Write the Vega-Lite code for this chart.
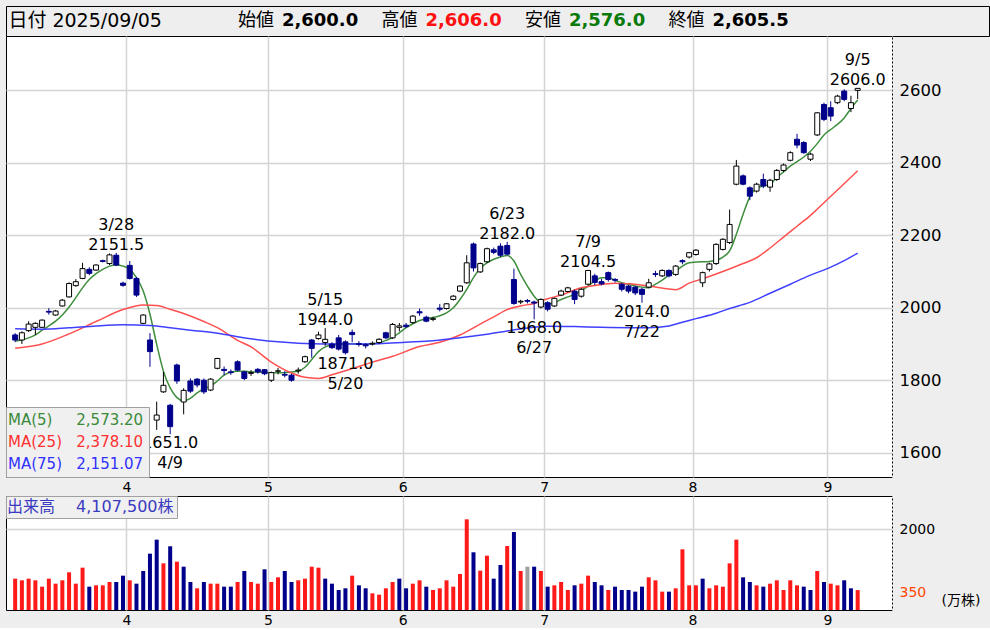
{
  "$schema": "https://vega.github.io/schema/vega-lite/v6.json",
  "background": "#eeeeee",
  "padding": {"left": 5, "top": 5, "right": 2, "bottom": 0},
  "config": {
    "font": "DejaVu Sans, Noto Sans CJK JP",
    "view": {"stroke": "black", "strokeWidth": 1},
    "axis": {"labelFont": "DejaVu Sans, Noto Sans CJK JP", "titleFont": "DejaVu Sans, Noto Sans CJK JP", "labelColor": "black"},
    "legend": {"labelFont": "DejaVu Sans, Noto Sans CJK JP"}
  },
  "datasets": {
    "hdr": [
      {"k": "日付", "lab": "日付 2025/09/05", "val": "", "vc": "n"},
      {"k": "始値", "lab": "始値", "val": "2,600.0", "vc": "n"},
      {"k": "高値", "lab": "高値", "val": "2,606.0", "vc": "h"},
      {"k": "安値", "lab": "安値", "val": "2,576.0", "vc": "l"},
      {"k": "終値", "lab": "終値", "val": "2,605.5", "vc": "n"}
    ],
    "k": [
      {"i":0,"d":"3/6","o":1925,"h":1930,"l":1905,"c":1911,"v":709,"vd":"u"},
      {"i":1,"d":"3/7","o":1911,"h":1935,"l":1900,"c":1931,"v":666,"vd":"u"},
      {"i":2,"d":"3/10","o":1937,"h":1963,"l":1933,"c":1955,"v":709,"vd":"u"},
      {"i":3,"d":"3/11","o":1946,"h":1960,"l":1925,"c":1957,"v":666,"vd":"u"},
      {"i":4,"d":"3/12","o":1946,"h":1968,"l":1944,"c":1966,"v":500,"vd":"u"},
      {"i":5,"d":"3/13","o":1990,"h":1999,"l":1981,"c":1988,"v":709,"vd":"u"},
      {"i":6,"d":"3/14","o":1980,"h":1994,"l":1978,"c":1991,"v":578,"vd":"u"},
      {"i":7,"d":"3/17","o":2005,"h":2024,"l":2003,"c":2021,"v":666,"vd":"u"},
      {"i":8,"d":"3/18","o":2030,"h":2070,"l":2028,"c":2067,"v":875,"vd":"u"},
      {"i":9,"d":"3/19","o":2061,"h":2079,"l":2058,"c":2072,"v":578,"vd":"u"},
      {"i":10,"d":"3/21","o":2081,"h":2124,"l":2079,"c":2108,"v":996,"vd":"u"},
      {"i":11,"d":"3/24","o":2106,"h":2112,"l":2090,"c":2095,"v":500,"vd":"d"},
      {"i":12,"d":"3/25","o":2104,"h":2120,"l":2102,"c":2118,"v":535,"vd":"u"},
      {"i":13,"d":"3/26","o":2130,"h":2133,"l":2125,"c":2128,"v":535,"vd":"u"},
      {"i":14,"d":"3/27","o":2122,"h":2150,"l":2118,"c":2146,"v":622,"vd":"u"},
      {"i":15,"d":"3/28","o":2145,"h":2151.5,"l":2115,"c":2118,"v":622,"vd":"d"},
      {"i":16,"d":"3/31","o":2068,"h":2072,"l":2058,"c":2062,"v":787,"vd":"d"},
      {"i":17,"d":"4/1","o":2117,"h":2129,"l":2078,"c":2081,"v":666,"vd":"u"},
      {"i":18,"d":"4/2","o":2081,"h":2085,"l":2030,"c":2035,"v":578,"vd":"d"},
      {"i":19,"d":"4/3","o":1957,"h":1982,"l":1955,"c":1980,"v":909,"vd":"d"},
      {"i":20,"d":"4/4","o":1911,"h":1930,"l":1837,"c":1879,"v":1362,"vd":"d"},
      {"i":21,"d":"4/7","o":1690,"h":1741,"l":1663,"c":1704,"v":1728,"vd":"d"},
      {"i":22,"d":"4/8","o":1768,"h":1823,"l":1765,"c":1786,"v":1110,"vd":"u"},
      {"i":23,"d":"4/9","o":1731,"h":1735,"l":1651,"c":1672,"v":1555,"vd":"d"},
      {"i":24,"d":"4/10","o":1842,"h":1846,"l":1790,"c":1798,"v":1153,"vd":"u"},
      {"i":25,"d":"4/11","o":1740,"h":1778,"l":1706,"c":1772,"v":1022,"vd":"d"},
      {"i":26,"d":"4/14","o":1798,"h":1805,"l":1765,"c":1770,"v":622,"vd":"d"},
      {"i":27,"d":"4/15","o":1803,"h":1806,"l":1780,"c":1787,"v":457,"vd":"u"},
      {"i":28,"d":"4/16","o":1800,"h":1805,"l":1762,"c":1768,"v":622,"vd":"d"},
      {"i":29,"d":"4/17","o":1773,"h":1806,"l":1770,"c":1803,"v":578,"vd":"u"},
      {"i":30,"d":"4/18","o":1833,"h":1862,"l":1830,"c":1860,"v":578,"vd":"u"},
      {"i":31,"d":"4/21","o":1830,"h":1838,"l":1814,"c":1827,"v":500,"vd":"d"},
      {"i":32,"d":"4/22","o":1823,"h":1830,"l":1815,"c":1821,"v":500,"vd":"d"},
      {"i":33,"d":"4/23","o":1851,"h":1855,"l":1825,"c":1828,"v":622,"vd":"u"},
      {"i":34,"d":"4/24","o":1823,"h":1826,"l":1800,"c":1805,"v":909,"vd":"d"},
      {"i":35,"d":"4/25","o":1819,"h":1828,"l":1812,"c":1821,"v":622,"vd":"u"},
      {"i":36,"d":"4/28","o":1830,"h":1834,"l":1818,"c":1823,"v":578,"vd":"u"},
      {"i":37,"d":"4/30","o":1829,"h":1831,"l":1814,"c":1818,"v":953,"vd":"d"},
      {"i":38,"d":"5/1","o":1800,"h":1824,"l":1795,"c":1821,"v":622,"vd":"u"},
      {"i":39,"d":"5/2","o":1825,"h":1834,"l":1816,"c":1826,"v":744,"vd":"u"},
      {"i":40,"d":"5/7","o":1816,"h":1825,"l":1808,"c":1814,"v":909,"vd":"d"},
      {"i":41,"d":"5/8","o":1814,"h":1818,"l":1796,"c":1800,"v":622,"vd":"d"},
      {"i":42,"d":"5/9","o":1826,"h":1835,"l":1818,"c":1828,"v":666,"vd":"u"},
      {"i":43,"d":"5/12","o":1851,"h":1868,"l":1848,"c":1865,"v":709,"vd":"u"},
      {"i":44,"d":"5/13","o":1911,"h":1914,"l":1862,"c":1888,"v":1022,"vd":"u"},
      {"i":45,"d":"5/14","o":1915,"h":1934,"l":1912,"c":1925,"v":996,"vd":"u"},
      {"i":46,"d":"5/15","o":1904,"h":1944,"l":1895,"c":1913,"v":709,"vd":"d"},
      {"i":47,"d":"5/16","o":1900,"h":1905,"l":1886,"c":1890,"v":578,"vd":"d"},
      {"i":48,"d":"5/19","o":1917,"h":1925,"l":1882,"c":1886,"v":413,"vd":"d"},
      {"i":49,"d":"5/20","o":1906,"h":1910,"l":1871,"c":1876,"v":457,"vd":"d"},
      {"i":50,"d":"5/21","o":1932,"h":1940,"l":1905,"c":1926,"v":787,"vd":"u"},
      {"i":51,"d":"5/22","o":1901,"h":1908,"l":1893,"c":1899,"v":535,"vd":"d"},
      {"i":52,"d":"5/23","o":1898,"h":1902,"l":1888,"c":1895,"v":457,"vd":"d"},
      {"i":53,"d":"5/26","o":1900,"h":1907,"l":1896,"c":1902,"v":326,"vd":"u"},
      {"i":54,"d":"5/27","o":1904,"h":1916,"l":1900,"c":1913,"v":291,"vd":"u"},
      {"i":55,"d":"5/28","o":1931,"h":1934,"l":1914,"c":1917,"v":457,"vd":"u"},
      {"i":56,"d":"5/29","o":1917,"h":1958,"l":1914,"c":1954,"v":622,"vd":"u"},
      {"i":57,"d":"5/30","o":1946,"h":1958,"l":1935,"c":1950,"v":709,"vd":"d"},
      {"i":58,"d":"6/2","o":1952,"h":1958,"l":1944,"c":1948,"v":457,"vd":"d"},
      {"i":59,"d":"6/3","o":1959,"h":1980,"l":1956,"c":1977,"v":578,"vd":"u"},
      {"i":60,"d":"6/4","o":1989,"h":1998,"l":1978,"c":1986,"v":666,"vd":"u"},
      {"i":61,"d":"6/5","o":1974,"h":1978,"l":1960,"c":1963,"v":500,"vd":"d"},
      {"i":62,"d":"6/6","o":1968,"h":1975,"l":1963,"c":1970,"v":413,"vd":"u"},
      {"i":63,"d":"6/9","o":1999,"h":2010,"l":1990,"c":1996,"v":457,"vd":"u"},
      {"i":64,"d":"6/10","o":1998,"h":2013,"l":1995,"c":2011,"v":666,"vd":"u"},
      {"i":65,"d":"6/11","o":2023,"h":2035,"l":2020,"c":2032,"v":500,"vd":"u"},
      {"i":66,"d":"6/12","o":2046,"h":2062,"l":2043,"c":2060,"v":831,"vd":"u"},
      {"i":67,"d":"6/13","o":2069,"h":2145,"l":2066,"c":2124,"v":2260,"vd":"u"},
      {"i":68,"d":"6/16","o":2176,"h":2180,"l":2100,"c":2110,"v":1398,"vd":"d"},
      {"i":69,"d":"6/17","o":2099,"h":2125,"l":2096,"c":2122,"v":917,"vd":"u"},
      {"i":70,"d":"6/18","o":2127,"h":2166,"l":2124,"c":2163,"v":1310,"vd":"u"},
      {"i":71,"d":"6/19","o":2160,"h":2166,"l":2148,"c":2153,"v":709,"vd":"d"},
      {"i":72,"d":"6/20","o":2170,"h":2178,"l":2140,"c":2145,"v":1066,"vd":"d"},
      {"i":73,"d":"6/23","o":2172,"h":2182,"l":2145,"c":2148,"v":1563,"vd":"u"},
      {"i":74,"d":"6/24","o":2078,"h":2108,"l":2008,"c":2012,"v":1928,"vd":"d"},
      {"i":75,"d":"6/25","o":2016,"h":2022,"l":2010,"c":2018,"v":909,"vd":"u"},
      {"i":76,"d":"6/26","o":2020,"h":2024,"l":2012,"c":2018,"v":1022,"vd":"f"},
      {"i":77,"d":"6/27","o":2016,"h":2020,"l":1968,"c":2013,"v":1022,"vd":"d"},
      {"i":78,"d":"6/30","o":2002,"h":2026,"l":1998,"c":2023,"v":909,"vd":"u"},
      {"i":79,"d":"7/1","o":2014,"h":2018,"l":1990,"c":1996,"v":500,"vd":"d"},
      {"i":80,"d":"7/2","o":2005,"h":2028,"l":2002,"c":2026,"v":535,"vd":"u"},
      {"i":81,"d":"7/3","o":2035,"h":2050,"l":2032,"c":2046,"v":622,"vd":"u"},
      {"i":82,"d":"7/4","o":2045,"h":2058,"l":2042,"c":2055,"v":413,"vd":"u"},
      {"i":83,"d":"7/7","o":2046,"h":2050,"l":2010,"c":2023,"v":535,"vd":"d"},
      {"i":84,"d":"7/8","o":2032,"h":2054,"l":2028,"c":2051,"v":578,"vd":"u"},
      {"i":85,"d":"7/9","o":2065,"h":2104.5,"l":2062,"c":2103,"v":787,"vd":"u"},
      {"i":86,"d":"7/10","o":2088,"h":2094,"l":2062,"c":2070,"v":622,"vd":"d"},
      {"i":87,"d":"7/11","o":2072,"h":2080,"l":2062,"c":2066,"v":535,"vd":"d"},
      {"i":88,"d":"7/14","o":2097,"h":2100,"l":2072,"c":2078,"v":413,"vd":"u"},
      {"i":89,"d":"7/15","o":2078,"h":2082,"l":2070,"c":2076,"v":500,"vd":"d"},
      {"i":90,"d":"7/16","o":2065,"h":2068,"l":2045,"c":2051,"v":413,"vd":"d"},
      {"i":91,"d":"7/17","o":2060,"h":2063,"l":2040,"c":2046,"v":413,"vd":"d"},
      {"i":92,"d":"7/18","o":2057,"h":2060,"l":2035,"c":2041,"v":370,"vd":"d"},
      {"i":93,"d":"7/22","o":2051,"h":2055,"l":2014,"c":2037,"v":500,"vd":"d"},
      {"i":94,"d":"7/23","o":2057,"h":2080,"l":2054,"c":2069,"v":744,"vd":"u"},
      {"i":95,"d":"7/24","o":2094,"h":2102,"l":2085,"c":2092,"v":666,"vd":"u"},
      {"i":96,"d":"7/25","o":2088,"h":2106,"l":2085,"c":2103,"v":370,"vd":"u"},
      {"i":97,"d":"7/28","o":2103,"h":2106,"l":2084,"c":2088,"v":370,"vd":"d"},
      {"i":98,"d":"7/29","o":2092,"h":2118,"l":2088,"c":2115,"v":457,"vd":"u"},
      {"i":99,"d":"7/30","o":2130,"h":2134,"l":2120,"c":2127,"v":1476,"vd":"u"},
      {"i":100,"d":"7/31","o":2140,"h":2154,"l":2136,"c":2152,"v":535,"vd":"u"},
      {"i":101,"d":"8/1","o":2147,"h":2162,"l":2144,"c":2159,"v":535,"vd":"u"},
      {"i":102,"d":"8/4","o":2069,"h":2100,"l":2057,"c":2097,"v":709,"vd":"d"},
      {"i":103,"d":"8/5","o":2106,"h":2124,"l":2100,"c":2121,"v":457,"vd":"u"},
      {"i":104,"d":"8/6","o":2122,"h":2178,"l":2118,"c":2175,"v":535,"vd":"u"},
      {"i":105,"d":"8/7","o":2161,"h":2192,"l":2158,"c":2189,"v":500,"vd":"u"},
      {"i":106,"d":"8/8","o":2180,"h":2271,"l":2176,"c":2230,"v":1110,"vd":"u"},
      {"i":107,"d":"8/12","o":2341,"h":2408,"l":2338,"c":2391,"v":1728,"vd":"u"},
      {"i":108,"d":"8/13","o":2364,"h":2368,"l":2338,"c":2341,"v":744,"vd":"d"},
      {"i":109,"d":"8/14","o":2331,"h":2335,"l":2297,"c":2308,"v":622,"vd":"d"},
      {"i":110,"d":"8/15","o":2322,"h":2345,"l":2318,"c":2341,"v":535,"vd":"u"},
      {"i":111,"d":"8/18","o":2354,"h":2370,"l":2330,"c":2336,"v":500,"vd":"d"},
      {"i":112,"d":"8/19","o":2333,"h":2356,"l":2320,"c":2352,"v":578,"vd":"u"},
      {"i":113,"d":"8/20","o":2354,"h":2383,"l":2350,"c":2379,"v":666,"vd":"u"},
      {"i":114,"d":"8/21","o":2379,"h":2398,"l":2375,"c":2394,"v":413,"vd":"u"},
      {"i":115,"d":"8/22","o":2407,"h":2432,"l":2404,"c":2428,"v":666,"vd":"u"},
      {"i":116,"d":"8/25","o":2465,"h":2480,"l":2440,"c":2449,"v":535,"vd":"u"},
      {"i":117,"d":"8/26","o":2456,"h":2460,"l":2425,"c":2428,"v":500,"vd":"d"},
      {"i":118,"d":"8/27","o":2410,"h":2428,"l":2405,"c":2424,"v":413,"vd":"d"},
      {"i":119,"d":"8/28","o":2477,"h":2540,"l":2474,"c":2538,"v":909,"vd":"u"},
      {"i":120,"d":"8/29","o":2561,"h":2566,"l":2515,"c":2520,"v":622,"vd":"d"},
      {"i":121,"d":"9/1","o":2552,"h":2570,"l":2515,"c":2529,"v":578,"vd":"u"},
      {"i":122,"d":"9/2","o":2566,"h":2588,"l":2562,"c":2584,"v":535,"vd":"u"},
      {"i":123,"d":"9/3","o":2598,"h":2603,"l":2570,"c":2575,"v":666,"vd":"d"},
      {"i":124,"d":"9/4","o":2550,"h":2585,"l":2540,"c":2566,"v":457,"vd":"d"},
      {"i":125,"d":"9/5","o":2600,"h":2606,"l":2576,"c":2605.5,"v":410.75,"vd":"u"}
    ],
    "ma": [
      {"i":0,"ma":"MA(5)","v":1908},{"i":1,"ma":"MA(5)","v":1912},{"i":2,"ma":"MA(5)","v":1917},{"i":3,"ma":"MA(5)","v":1925},{"i":4,"ma":"MA(5)","v":1938},
      {"i":5,"ma":"MA(5)","v":1950},{"i":6,"ma":"MA(5)","v":1963},{"i":7,"ma":"MA(5)","v":1980},{"i":8,"ma":"MA(5)","v":2002},{"i":9,"ma":"MA(5)","v":2028},
      {"i":10,"ma":"MA(5)","v":2055},{"i":11,"ma":"MA(5)","v":2078},{"i":12,"ma":"MA(5)","v":2094},{"i":13,"ma":"MA(5)","v":2106},{"i":14,"ma":"MA(5)","v":2115},
      {"i":15,"ma":"MA(5)","v":2118},{"i":16,"ma":"MA(5)","v":2115},{"i":17,"ma":"MA(5)","v":2106},{"i":18,"ma":"MA(5)","v":2083},{"i":19,"ma":"MA(5)","v":2046},
      {"i":20,"ma":"MA(5)","v":1982},{"i":21,"ma":"MA(5)","v":1899},{"i":22,"ma":"MA(5)","v":1825},{"i":23,"ma":"MA(5)","v":1779},{"i":24,"ma":"MA(5)","v":1752},
      {"i":25,"ma":"MA(5)","v":1743},{"i":26,"ma":"MA(5)","v":1750},{"i":27,"ma":"MA(5)","v":1765},{"i":28,"ma":"MA(5)","v":1777},{"i":29,"ma":"MA(5)","v":1784},
      {"i":30,"ma":"MA(5)","v":1798},{"i":31,"ma":"MA(5)","v":1814},{"i":32,"ma":"MA(5)","v":1823},{"i":33,"ma":"MA(5)","v":1825},{"i":34,"ma":"MA(5)","v":1825},
      {"i":35,"ma":"MA(5)","v":1823},{"i":36,"ma":"MA(5)","v":1823},{"i":37,"ma":"MA(5)","v":1822},{"i":38,"ma":"MA(5)","v":1821},{"i":39,"ma":"MA(5)","v":1821},
      {"i":40,"ma":"MA(5)","v":1821},{"i":41,"ma":"MA(5)","v":1823},{"i":42,"ma":"MA(5)","v":1825},{"i":43,"ma":"MA(5)","v":1836},{"i":44,"ma":"MA(5)","v":1857},
      {"i":45,"ma":"MA(5)","v":1879},{"i":46,"ma":"MA(5)","v":1892},{"i":47,"ma":"MA(5)","v":1897},{"i":48,"ma":"MA(5)","v":1899},{"i":49,"ma":"MA(5)","v":1901},
      {"i":50,"ma":"MA(5)","v":1901},{"i":51,"ma":"MA(5)","v":1899},{"i":52,"ma":"MA(5)","v":1899},{"i":53,"ma":"MA(5)","v":1901},{"i":54,"ma":"MA(5)","v":1903},
      {"i":55,"ma":"MA(5)","v":1910},{"i":56,"ma":"MA(5)","v":1918},{"i":57,"ma":"MA(5)","v":1931},{"i":58,"ma":"MA(5)","v":1945},{"i":59,"ma":"MA(5)","v":1956},
      {"i":60,"ma":"MA(5)","v":1965},{"i":61,"ma":"MA(5)","v":1970},{"i":62,"ma":"MA(5)","v":1973},{"i":63,"ma":"MA(5)","v":1978},{"i":64,"ma":"MA(5)","v":1986},
      {"i":65,"ma":"MA(5)","v":2000},{"i":66,"ma":"MA(5)","v":2023},{"i":67,"ma":"MA(5)","v":2051},{"i":68,"ma":"MA(5)","v":2083},{"i":69,"ma":"MA(5)","v":2109},
      {"i":70,"ma":"MA(5)","v":2124},{"i":71,"ma":"MA(5)","v":2134},{"i":72,"ma":"MA(5)","v":2140},{"i":73,"ma":"MA(5)","v":2144},{"i":74,"ma":"MA(5)","v":2129},
      {"i":75,"ma":"MA(5)","v":2092},{"i":76,"ma":"MA(5)","v":2060},{"i":77,"ma":"MA(5)","v":2032},{"i":78,"ma":"MA(5)","v":2014},{"i":79,"ma":"MA(5)","v":2010},
      {"i":80,"ma":"MA(5)","v":2014},{"i":81,"ma":"MA(5)","v":2023},{"i":82,"ma":"MA(5)","v":2030},{"i":83,"ma":"MA(5)","v":2037},{"i":84,"ma":"MA(5)","v":2048},
      {"i":85,"ma":"MA(5)","v":2060},{"i":86,"ma":"MA(5)","v":2074},{"i":87,"ma":"MA(5)","v":2083},{"i":88,"ma":"MA(5)","v":2083},{"i":89,"ma":"MA(5)","v":2076},
      {"i":90,"ma":"MA(5)","v":2069},{"i":91,"ma":"MA(5)","v":2065},{"i":92,"ma":"MA(5)","v":2060},{"i":93,"ma":"MA(5)","v":2057},{"i":94,"ma":"MA(5)","v":2055},
      {"i":95,"ma":"MA(5)","v":2065},{"i":96,"ma":"MA(5)","v":2076},{"i":97,"ma":"MA(5)","v":2090},{"i":98,"ma":"MA(5)","v":2101},{"i":99,"ma":"MA(5)","v":2115},
      {"i":100,"ma":"MA(5)","v":2124},{"i":101,"ma":"MA(5)","v":2126},{"i":102,"ma":"MA(5)","v":2127},{"i":103,"ma":"MA(5)","v":2128},{"i":104,"ma":"MA(5)","v":2131},
      {"i":105,"ma":"MA(5)","v":2140},{"i":106,"ma":"MA(5)","v":2157},{"i":107,"ma":"MA(5)","v":2203},{"i":108,"ma":"MA(5)","v":2258},{"i":109,"ma":"MA(5)","v":2306},
      {"i":110,"ma":"MA(5)","v":2330},{"i":111,"ma":"MA(5)","v":2336},{"i":112,"ma":"MA(5)","v":2341},{"i":113,"ma":"MA(5)","v":2359},{"i":114,"ma":"MA(5)","v":2375},
      {"i":115,"ma":"MA(5)","v":2391},{"i":116,"ma":"MA(5)","v":2403},{"i":117,"ma":"MA(5)","v":2416},{"i":118,"ma":"MA(5)","v":2432},{"i":119,"ma":"MA(5)","v":2453},
      {"i":120,"ma":"MA(5)","v":2477},{"i":121,"ma":"MA(5)","v":2492},{"i":122,"ma":"MA(5)","v":2506},{"i":123,"ma":"MA(5)","v":2524},{"i":124,"ma":"MA(5)","v":2550},
      {"i":125,"ma":"MA(5)","v":2573.2},
      {"i":0,"ma":"MA(25)","v":1888},{"i":4,"ma":"MA(25)","v":1900},{"i":8,"ma":"MA(25)","v":1928},{"i":12,"ma":"MA(25)","v":1962},{"i":16,"ma":"MA(25)","v":1995},
      {"i":19,"ma":"MA(25)","v":2008},{"i":21,"ma":"MA(25)","v":2006},{"i":23,"ma":"MA(25)","v":1996},{"i":25,"ma":"MA(25)","v":1984},{"i":28,"ma":"MA(25)","v":1962},
      {"i":30,"ma":"MA(25)","v":1945},{"i":33,"ma":"MA(25)","v":1910},{"i":35,"ma":"MA(25)","v":1892},{"i":38,"ma":"MA(25)","v":1850},{"i":41,"ma":"MA(25)","v":1820},
      {"i":43,"ma":"MA(25)","v":1808},{"i":45,"ma":"MA(25)","v":1805},{"i":47,"ma":"MA(25)","v":1815},{"i":50,"ma":"MA(25)","v":1832},{"i":53,"ma":"MA(25)","v":1850},
      {"i":56,"ma":"MA(25)","v":1866},{"i":60,"ma":"MA(25)","v":1893},{"i":63,"ma":"MA(25)","v":1905},{"i":66,"ma":"MA(25)","v":1925},{"i":69,"ma":"MA(25)","v":1955},
      {"i":71,"ma":"MA(25)","v":1975},{"i":73,"ma":"MA(25)","v":1995},{"i":75,"ma":"MA(25)","v":2005},{"i":77,"ma":"MA(25)","v":2012},{"i":79,"ma":"MA(25)","v":2025},
      {"i":81,"ma":"MA(25)","v":2035},{"i":84,"ma":"MA(25)","v":2055},{"i":87,"ma":"MA(25)","v":2064},{"i":89,"ma":"MA(25)","v":2068},{"i":91,"ma":"MA(25)","v":2066},
      {"i":94,"ma":"MA(25)","v":2060},{"i":97,"ma":"MA(25)","v":2052},{"i":98,"ma":"MA(25)","v":2050},{"i":100,"ma":"MA(25)","v":2068},{"i":102,"ma":"MA(25)","v":2080},
      {"i":105,"ma":"MA(25)","v":2100},{"i":108,"ma":"MA(25)","v":2122},{"i":110,"ma":"MA(25)","v":2138},{"i":112,"ma":"MA(25)","v":2165},{"i":114,"ma":"MA(25)","v":2195},
      {"i":116,"ma":"MA(25)","v":2225},{"i":118,"ma":"MA(25)","v":2255},{"i":120,"ma":"MA(25)","v":2290},{"i":122,"ma":"MA(25)","v":2325},{"i":124,"ma":"MA(25)","v":2360},
      {"i":125,"ma":"MA(25)","v":2378.1},
      {"i":0,"ma":"MA(75)","v":1942},{"i":4,"ma":"MA(75)","v":1941},{"i":8,"ma":"MA(75)","v":1945},{"i":12,"ma":"MA(75)","v":1950},{"i":16,"ma":"MA(75)","v":1953},
      {"i":20,"ma":"MA(75)","v":1951},{"i":23,"ma":"MA(75)","v":1945},{"i":26,"ma":"MA(75)","v":1938},{"i":30,"ma":"MA(75)","v":1930},{"i":33,"ma":"MA(75)","v":1920},
      {"i":36,"ma":"MA(75)","v":1912},{"i":39,"ma":"MA(75)","v":1906},{"i":42,"ma":"MA(75)","v":1902},{"i":46,"ma":"MA(75)","v":1900},{"i":50,"ma":"MA(75)","v":1900},
      {"i":54,"ma":"MA(75)","v":1901},{"i":58,"ma":"MA(75)","v":1905},{"i":62,"ma":"MA(75)","v":1909},{"i":66,"ma":"MA(75)","v":1917},{"i":70,"ma":"MA(75)","v":1927},
      {"i":73,"ma":"MA(75)","v":1936},{"i":76,"ma":"MA(75)","v":1944},{"i":79,"ma":"MA(75)","v":1949},{"i":83,"ma":"MA(75)","v":1948},{"i":87,"ma":"MA(75)","v":1946},
      {"i":91,"ma":"MA(75)","v":1945},{"i":94,"ma":"MA(75)","v":1945},{"i":97,"ma":"MA(75)","v":1950},{"i":99,"ma":"MA(75)","v":1960},{"i":101,"ma":"MA(75)","v":1970},
      {"i":104,"ma":"MA(75)","v":1985},{"i":106,"ma":"MA(75)","v":1998},{"i":109,"ma":"MA(75)","v":2015},{"i":112,"ma":"MA(75)","v":2040},{"i":115,"ma":"MA(75)","v":2065},
      {"i":118,"ma":"MA(75)","v":2090},{"i":121,"ma":"MA(75)","v":2112},{"i":123,"ma":"MA(75)","v":2130},{"i":125,"ma":"MA(75)","v":2151.07}
    ],
    "ann": [
      {"i":15,"v":2151.5,"t":"3/28\n2151.5","s":"t"},
      {"i":23,"v":1651,"t":"1651.0\n4/9","s":"b"},
      {"i":46,"v":1944,"t":"5/15\n1944.0","s":"t"},
      {"i":49,"v":1871,"t":"1871.0\n5/20","s":"b"},
      {"i":73,"v":2182,"t":"6/23\n2182.0","s":"t"},
      {"i":77,"v":1968,"t":"1968.0\n6/27","s":"b"},
      {"i":85,"v":2104.5,"t":"7/9\n2104.5","s":"t"},
      {"i":93,"v":2014,"t":"2014.0\n7/22","s":"b"},
      {"i":125,"v":2606,"t":"9/5\n2606.0","s":"t"}
    ],
    "avg": [{"v": 350}],
    "blank": [{"a": 1}]
  },
  "bounds": "flush",
  "spacing": 0,
  "resolve": {"scale": {"x": "independent", "y": "independent", "color": "independent", "stroke": "independent", "fill": "independent"}, "legend": {"color": "independent", "stroke": "independent", "fill": "independent"}},
  "vconcat": [
    {
      "width": 983,
      "height": 30,
      "view": {"fill": "#eeeeee", "stroke": "black"},
      "data": {"name": "hdr"},
      "encoding": {
        "x": {"field": "k", "type": "nominal", "bandPosition": 0,
              "scale": {"type": "band", "domain": ["日付", "始値", "高値", "安値", "終値"], "paddingInner": 0, "paddingOuter": 0.925, "align": 0.333},
              "axis": null}
      },
      "layer": [
        {
          "transform": [{"filter": "datum.k == '日付'"}],
          "mark": {"type": "text", "align": "left", "baseline": "middle", "fontSize": 19, "dx": -86, "color": "black"},
          "encoding": {"text": {"field": "lab"}}
        },
        {
          "transform": [{"filter": "datum.k != '日付'"}],
          "mark": {"type": "text", "align": "left", "baseline": "middle", "fontSize": 18, "color": "black"},
          "encoding": {"text": {"field": "lab"}}
        },
        {
          "transform": [{"filter": "datum.k != '日付'"}],
          "mark": {"type": "text", "align": "left", "baseline": "middle", "fontSize": 18, "fontWeight": "bold", "dx": 44},
          "encoding": {
            "text": {"field": "val"},
            "color": {"field": "vc", "type": "nominal", "scale": {"domain": ["n", "h", "l"], "range": ["#000000", "#ff1010", "#0a7a0a"]}, "legend": null}
          }
        }
      ]
    },
    {
      "width": 886,
      "height": 441,
      "view": {"fill": "white", "stroke": "black"},
      "encoding": {
        "x": {"field": "i", "type": "quantitative", "title": null,
              "scale": {"domain": [-0.616, 129.35], "nice": false, "zero": false},
              "axis": {"values": [16.5, 37.5, 57.5, 78.5, 100.5, 120.5],
                       "labelExpr": "datum.value < 20 ? '4' : datum.value < 40 ? '5' : datum.value < 60 ? '6' : datum.value < 90 ? '7' : datum.value < 110 ? '8' : '9'",
                       "grid": true, "gridColor": "#d4d4d4", "gridWidth": 1.5, "ticks": false, "domain": false,
                       "labelFontSize": 14, "labelPadding": 3, "labelOffset": 0}}
      },
      "layer": [
        {
          "data": {"name": "ma"},
          "mark": {"type": "line", "interpolate": "monotone", "strokeWidth": 1.5},
          "encoding": {
            "y": {"field": "v", "type": "quantitative", "title": null,
                  "scale": {"domain": [1533, 2750], "nice": false, "zero": false},
                  "axis": {"orient": "right", "values": [1600, 1800, 2000, 2200, 2400, 2600], "format": "d",
                           "grid": true, "gridColor": "#d4d4d4", "gridWidth": 1.5, "ticks": false,
                           "domain": true, "domainColor": "#eeeeee", "domainDash": [2, 2], "domainWidth": 1,
                           "labelFontSize": 16.5, "labelPadding": 7}},
            "stroke": {"field": "ma", "type": "nominal",
                       "scale": {"domain": ["MA(5)", "MA(25)", "MA(75)"], "range": ["#3e8e3e", "#ff5050", "#4040ff"]},
                       "legend": {"orient": "bottom-left", "offset": 0, "title": null, "padding": 5,
                                  "fillColor": "#f0f0f0", "strokeColor": "#a0a0a0",
                                  "symbolSize": 1, "symbolOpacity": 0, "symbolStrokeWidth": 0,
                                  "labelOffset": -18, "labelFontSize": 15, "rowPadding": 6, "labelLimit": 400, "zindex": 1,
                                  "labelExpr": "datum.label == 'MA(5)' ? 'MA(5)\u00a0\u00a0\u00a0\u00a0\u00a02,573.20' : datum.label == 'MA(25)' ? 'MA(25)\u00a0\u00a0\u00a02,378.10' : 'MA(75)\u00a0\u00a0\u00a02,151.07'",
                                  "encode": {"labels": {"update": {"fill": {"signal": "datum.value == 'MA(5)' ? '#3a8a3a' : datum.value == 'MA(25)' ? '#ff3030' : '#3030ff'"}}}}}}
          }
        },
        {
          "data": {"name": "k"},
          "mark": {"type": "rule", "strokeWidth": 1},
          "encoding": {
            "y": {"field": "l", "type": "quantitative", "title": null, "scale": {"domain": [1533, 2750], "nice": false, "zero": false}},
            "y2": {"field": "h"},
            "color": {"condition": {"test": "datum.c >= datum.o", "value": "#000000"}, "value": "#00008b"}
          }
        },
        {
          "data": {"name": "k"},
          "mark": {"type": "bar", "size": 5, "strokeWidth": 1},
          "encoding": {
            "y": {"field": "o", "type": "quantitative", "title": null, "scale": {"domain": [1533, 2750], "nice": false, "zero": false}},
            "y2": {"field": "c"},
            "fill": {"condition": {"test": "datum.c >= datum.o", "value": "#ffffff"}, "value": "#00008b"},
            "stroke": {"condition": {"test": "datum.c >= datum.o", "value": "#000000"}, "value": "#00008b"}
          }
        },
        {
          "data": {"name": "ann"},
          "transform": [{"filter": "datum.s == 't'"}],
          "mark": {"type": "text", "align": "center", "baseline": "bottom", "fontSize": 16, "lineHeight": 20, "lineBreak": "\n", "dy": -20, "color": "black"},
          "encoding": {
            "y": {"field": "v", "type": "quantitative", "title": null, "scale": {"domain": [1533, 2750], "nice": false, "zero": false}},
            "text": {"field": "t"}
          }
        },
        {
          "data": {"name": "ann"},
          "transform": [{"filter": "datum.s == 'b'"}],
          "mark": {"type": "text", "align": "center", "baseline": "top", "fontSize": 16, "lineHeight": 20, "lineBreak": "\n", "dy": 1, "color": "black"},
          "encoding": {
            "y": {"field": "v", "type": "quantitative", "title": null, "scale": {"domain": [1533, 2750], "nice": false, "zero": false}},
            "text": {"field": "t"}
          }
        }
      ]
    },
    {
      "width": 886,
      "height": 19,
      "view": {"fill": null, "stroke": null},
      "data": {"name": "blank"},
      "mark": {"type": "text"},
      "encoding": {"text": {"value": ""}}
    },
    {
      "width": 886,
      "height": 114,
      "view": {"fill": "white", "stroke": "black"},
      "encoding": {
        "x": {"field": "i", "type": "quantitative", "title": null,
              "scale": {"domain": [-0.616, 129.35], "nice": false, "zero": false},
              "axis": {"values": [16.5, 37.5, 57.5, 78.5, 100.5, 120.5],
                       "labelExpr": "datum.value < 20 ? '4' : datum.value < 40 ? '5' : datum.value < 60 ? '6' : datum.value < 90 ? '7' : datum.value < 110 ? '8' : '9'",
                       "grid": true, "gridColor": "#d4d4d4", "gridWidth": 1.5, "ticks": false, "domain": false,
                       "labelFontSize": 14, "labelPadding": 3, "labelOffset": 0}}
      },
      "layer": [
        {
          "data": {"name": "k"},
          "mark": {"type": "bar", "size": 4},
          "encoding": {
            "y": {"field": "v", "type": "quantitative", "title": "(万株)",
                  "scale": {"domain": [-110, 2869], "nice": false, "zero": false},
                  "axis": {"orient": "right", "values": [350, 500, 1000, 1250, 1500, 1750, 2000], "format": "d",
                           "labelExpr": "datum.value == 500 || datum.value == 1250 || datum.value == 1750 ? '' : datum.label",
                           "grid": true, "gridColor": "#d4d4d4", "gridWidth": 1.5,
                           "gridOpacity": {"condition": {"test": "datum.value == 350 || datum.value == 1250 || datum.value == 1750", "value": 0}, "value": 1},
                           "ticks": false, "domain": true, "domainColor": "#eeeeee", "domainDash": [2, 2], "domainWidth": 1,
                           "labelFontSize": 14, "labelPadding": 7, "labelOverlap": false, "labelBound": false,
                           "labelColor": {"condition": {"test": "datum.value == 350", "value": "#ff4500"}, "value": "#000000"},
                           "titleAngle": 0, "titleX": 49, "titleY": 104, "titleAlign": "left", "titleBaseline": "middle",
                           "titleFontSize": 14, "titleFontWeight": "normal", "titleColor": "#000000"}},
            "y2": {"datum": -110},
            "color": {"field": "vd", "type": "nominal",
                      "scale": {"domain": ["u", "d", "f"], "range": ["#ff1a1a", "#00008b", "#a0a0a0"]},
                      "legend": {"values": ["u"], "orient": "top-left", "offset": 0, "title": null, "padding": 3,
                                 "fillColor": "#f0f0f0", "strokeColor": "#a0a0a0",
                                 "symbolSize": 1, "symbolOpacity": 0, "symbolStrokeWidth": 0,
                                 "labelOffset": -18, "labelFontSize": 16, "labelColor": "#3a3ac0", "labelLimit": 400, "zindex": 1,
                                 "labelExpr": "'出来高\u3000 4,107,500株'"}}
          }
        },
        {
          "data": {"name": "avg"},
          "mark": {"type": "rule", "strokeDash": [3, 4], "color": "#555555", "strokeWidth": 1.5},
          "encoding": {
            "y": {"field": "v", "type": "quantitative", "title": "(万株)", "scale": {"domain": [-110, 2869], "nice": false, "zero": false}}
          }
        }
      ]
    }
  ]
}
